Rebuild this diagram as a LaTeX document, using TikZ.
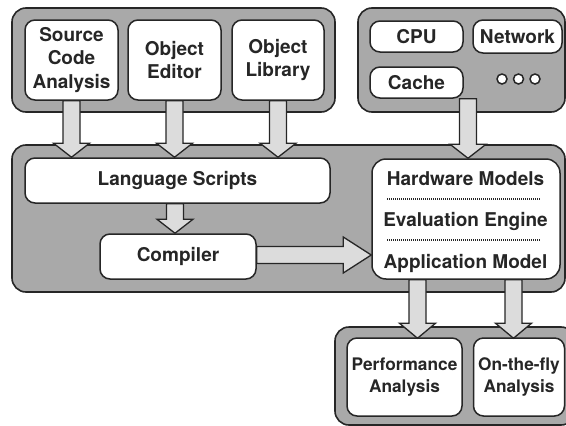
\documentclass[tikz,border=0pt]{standalone}
\usepackage{fontspec}
\setmainfont{TeX Gyre Heros}
\usetikzlibrary{calc}

\definecolor{ink}{HTML}{262626}
\definecolor{panel}{HTML}{A9A9A9}
\definecolor{shaft}{HTML}{DCDCDC}

\tikzset{
  grp/.style={draw=ink, line width=1.6pt, fill=panel, rounded corners=14pt, inner sep=0pt},
  box/.style={draw=ink, line width=1.5pt, fill=white, rounded corners=10pt, inner sep=0pt,
              align=center, text=ink, font=\fontsize{19}{23.5}\selectfont\bfseries},
  smallbox/.style={box, font=\fontsize{17.3}{22}\selectfont\bfseries},
  txt/.style={inner sep=0pt, anchor=base, text=ink, font=\fontsize{19}{23.5}\selectfont\bfseries},
  blk/.style={draw=ink, line width=1.3pt, fill=shaft, line join=miter},
  sep/.style={draw=ink, line width=1.2pt, dash pattern=on 1pt off 1pt},
  dot/.style={circle, draw=ink, line width=1.5pt, fill=white, minimum size=10pt, inner sep=0pt}
}

% block arrow from coordinate #2 to coordinate #3, head length #1
\newcommand\blockarrow[3][14]{%
  \coordinate (ba-h) at ($(#3)!#1pt!(#2)$);
  \draw[blk] ($(#2)!8.5pt!90:(#3)$) -- ($(ba-h)!8.5pt!90:(#3)$) -- ($(ba-h)!18pt!90:(#3)$)
    -- (#3) -- ($(ba-h)!18pt!-90:(#3)$) -- ($(ba-h)!8.5pt!-90:(#3)$)
    -- ($(#2)!8.5pt!-90:(#3)$) -- cycle;
}

\begin{document}
\begin{tikzpicture}[x=1pt,y=-1pt]
\useasboundingbox (0,0) rectangle (566,426);
\clip (0,0) rectangle (566,426);

% group panels
\node[grp, minimum width=323pt, minimum height=104pt] (g1) at (173.5,60) {};
\node[grp, minimum width=207pt, minimum height=104pt] (g2) at (461.5,60) {};
\node[grp, minimum width=553pt, minimum height=147pt] (g3) at (288.5,218.5) {};
\node[grp, minimum width=240pt, minimum height=98pt]  (g4) at (455,376) {};

% tools
\node[box, minimum width=93pt, minimum height=80pt] (src) at (71.5,60) {Source\\Code\\Analysis};
\node[box, minimum width=93pt, minimum height=80pt] (edit) at (174.5,60) {Object\\Editor};
\node[box, minimum width=92pt, minimum height=80pt] (lib) at (278,60) {Object\\Library};

% hardware components
\node[box, minimum width=93pt, minimum height=31pt] (cpu) at (416.5,36.5) {CPU};
\node[box, minimum width=89pt, minimum height=33pt] (net) at (517.5,36.5) {Network};
\node[box, minimum width=93pt, minimum height=31pt] (cache) at (416.5,82.5) {Cache};
\node[dot] (d1) at (502,79) {};
\node[dot] (d2) at (518.5,79) {};
\node[dot] (d3) at (535,79) {};

% toolchain
\node[box, minimum width=305pt, minimum height=45pt] (lang) at (177.5,180.5) {Language Scripts};
\node[box, minimum width=156pt, minimum height=45pt] (comp) at (178,256.5) {Compiler};

% simulation model
\node[box, rounded corners=14pt, minimum width=188pt, minimum height=120pt] (model) at (466,219) {};
\node[txt] (hw)  at (465.5,185) {Hardware Models};
\node[txt] (ev)  at (465.5,226.5) {Evaluation Engine};
\node[txt] (app) at (465.5,268.5) {Application Model};
\draw[sep] (387,199) -- (541,199);
\draw[sep] (387,240) -- (541,240);

% analysis
\node[smallbox, minimum width=115pt, minimum height=78pt] (perf) at (404.5,377) {Performance\\Analysis};
\node[smallbox, minimum width=91pt, minimum height=78pt] (fly) at (519,377) {On-the-fly\\Analysis};

% flow arrows
\coordinate (a1s) at (src.south);  \coordinate (a1e) at (src.south |- lang.north);
\coordinate (a2s) at (edit.south); \coordinate (a2e) at (edit.south |- lang.north);
\coordinate (a3s) at (lib.south);  \coordinate (a3e) at (lib.south |- lang.north);
\coordinate (a4e) at ([xshift=2pt]model.north); \coordinate (a4s) at (a4e |- cache.south);
\coordinate (a5e) at ([xshift=-3pt]comp.north); \coordinate (a5s) at (a5e |- lang.south);
\coordinate (a6s) at ([yshift=1.5pt]comp.east); \coordinate (a6e) at (a6s -| model.west);
\coordinate (a7s) at ([xshift=-48.5pt]model.south); \coordinate (a7e) at ([yshift=-1pt]a7s |- perf.north);
\coordinate (a8s) at ([xshift=47.5pt]model.south);  \coordinate (a8e) at ([yshift=-1pt]a8s |- fly.north);

\blockarrow{a1s}{a1e}
\blockarrow{a2s}{a2e}
\blockarrow{a3s}{a3e}
\blockarrow{a4s}{a4e}
\blockarrow{a5s}{a5e}
\blockarrow[28]{a6s}{a6e}
\blockarrow[15]{a7s}{a7e}
\blockarrow[15]{a8s}{a8e}
\end{tikzpicture}
\end{document}
